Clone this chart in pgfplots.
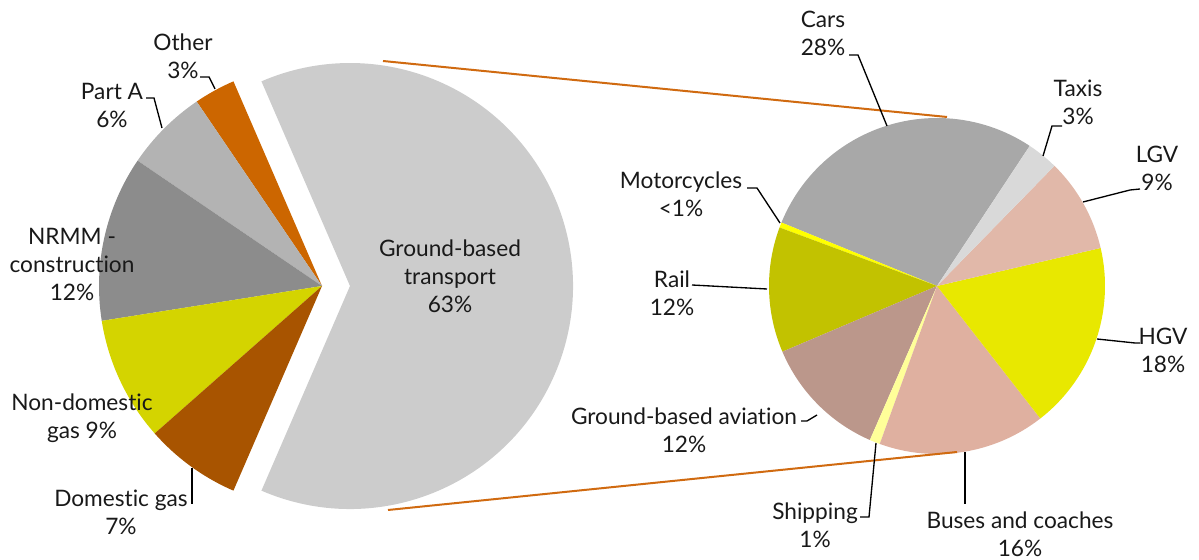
\documentclass[border=0pt]{standalone}
\usepackage{pgfplots}
\usepackage{pgfplotstable}
\pgfplotsset{compat=1.18}
\usepackage{fontspec}
\setmainfont{Lato}[Ligatures=NoCommon]

\definecolor{cGround}{HTML}{CCCCCC}
\definecolor{cOther}{HTML}{CC6600}
\definecolor{cPartA}{HTML}{B3B3B3}
\definecolor{cNRMM}{HTML}{8C8C8C}
\definecolor{cNonDom}{HTML}{D4D400}
\definecolor{cDom}{HTML}{A85400}
\definecolor{cCars}{HTML}{A8A8A8}
\definecolor{cMoto}{HTML}{FFFF00}
\definecolor{cRail}{HTML}{C2C200}
\definecolor{cAvi}{HTML}{BB978B}
\definecolor{cShip}{HTML}{FFFF99}
\definecolor{cBus}{HTML}{DFB0A0}
\definecolor{cHGV}{HTML}{E8E800}
\definecolor{cLGV}{HTML}{E1B8A9}
\definecolor{cTaxi}{HTML}{D9D9D9}
\definecolor{cConn}{HTML}{D06A10}

% left pie (counter-clockwise from start angle)
\pgfplotstableread{
name value color explode
Other 3 cOther 0
PartA 6 cPartA 0
NRMM 12 cNRMM 0
NonDom 9 cNonDom 0
Dom 7 cDom 0
Ground 63 cGround 28
}\leftpie

% right pie (counter-clockwise from start angle)
\pgfplotstableread{
name value color explode
Cars 28 cCars 0
Moto 0.5 cMoto 0
Rail 12 cRail 0
Aviation 12 cAvi 0
Shipping 1 cShip 0
Buses 16 cBus 0
HGV 18 cHGV 0
LGV 9 cLGV 0
Taxis 3 cTaxi 0
}\rightpie

\newcommand\drawpie[5]{%
 \pgfplotstablegetrowsof{#1}\pgfmathtruncatemacro\pieN{\pgfplotsretval-1}%
 \def\pieTot{0}%
 \pgfplotsforeachungrouped \i in {0,...,\pieN}{%
   \pgfplotstablegetelem{\i}{value}\of#1%
   \pgfmathsetmacro\pieTot{\pieTot+\pgfplotsretval}}%
 \def\pieCum{0}%
 \pgfplotsforeachungrouped \i in {0,...,\pieN}{%
   \pgfplotstablegetelem{\i}{value}\of#1\edef\pieV{\pgfplotsretval}%
   \pgfplotstablegetelem{\i}{color}\of#1\edef\pieC{\pgfplotsretval}%
   \pgfplotstablegetelem{\i}{explode}\of#1\edef\pieE{\pgfplotsretval}%
   \pgfmathsetmacro\pieA{#5+360*(\pieCum/\pieTot)}%
   \pgfmathsetmacro\pieB{#5+360*((\pieCum+\pieV)/\pieTot)}%
   \pgfmathsetmacro\pieM{(\pieA+\pieB)/2}%
   \pgfmathsetmacro\pieX{#2+\pieE*cos(\pieM)}%
   \pgfmathsetmacro\pieY{#3+\pieE*sin(\pieM)}%
   \pgfmathsetmacro\pieR{#4*0.75}%
   \edef\pieTmp{\noexpand\fill[\pieC] (axis cs:\pieX,\pieY) -- ++(\pieA:\pieR pt) arc[start angle=\pieA, end angle=\pieB, radius=\pieR pt] -- cycle;}%
   \pieTmp
   \pgfmathsetmacro\pieCum{\pieCum+\pieV}%
 }%
}

\begin{document}
\begin{tikzpicture}
\begin{axis}[x=0.75pt, y=0.75pt, xmin=0, xmax=1199, ymin=0, ymax=560,
  hide axis, clip=false, scale only axis]
\path (axis cs:0,0) rectangle (axis cs:1199,560);
\drawpie{\leftpie}{322}{274}{223}{113.4}
\drawpie{\rightpie}{937}{274}{168}{56.5}

% connector lines
\addplot[cConn, line width=1.5pt, no markers] coordinates {(383,499) (947,443)};
\addplot[cConn, line width=1.5pt, no markers] coordinates {(388,50) (957,108)};

% leader lines
\addplot[black, line width=1pt, no markers] coordinates {(200,483) (209,483) (215,471)};
\addplot[black, line width=1pt, no markers] coordinates {(146,462) (154,462) (162,432)};
\addplot[black, line width=1pt, no markers] coordinates {(192,92) (192,56)};
\addplot[black, line width=1pt, no markers] coordinates {(849,505) (858,505) (887,434)};
\addplot[black, line width=1pt, no markers] coordinates {(1062,434) (1052,434) (1043,404)};
\addplot[black, line width=1pt, no markers] coordinates {(1140,371) (1130,370) (1083,358)};
\addplot[black, line width=1pt, no markers] coordinates {(1097,221) (1135,217) (1140,217)};
\addplot[black, line width=1pt, no markers] coordinates {(965,108) (965,56)};
\addplot[black, line width=1pt, no markers] coordinates {(860,43) (869,43) (876,117)};
\addplot[black, line width=1pt, no markers] coordinates {(801,139) (807,139) (817,145)};
\addplot[black, line width=1pt, no markers] coordinates {(692,275) (767,271)};
\addplot[black, line width=1pt, no markers] coordinates {(747,372) (757,372) (780,337)};

\tikzset{lab/.style={align=center, inner sep=0pt, text=black!90, font=\fontsize{17}{21}\selectfont}}
\node[lab] at (axis cs:183,504) {Other\\3\%};
\node[lab] at (axis cs:112,455) {Part A\\6\%};
\node[lab] at (axis cs:72,296) {NRMM -\\construction\\12\%};
\node[lab] at (axis cs:82,142) {Non-domestic\\gas 9\%};
\node[lab] at (axis cs:121,48) {Domestic gas\\7\%};
\node[lab] at (axis cs:450,284) {Ground-based\\transport\\63\%};
\node[lab] at (axis cs:823,527) {Cars\\28\%};
\node[lab] at (axis cs:1078,458) {Taxis\\3\%};
\node[lab] at (axis cs:1157,392) {LGV\\9\%};
\node[lab] at (axis cs:1163,210) {HGV\\18\%};
\node[lab] at (axis cs:1020,26) {Buses and coaches\\16\%};
\node[lab] at (axis cs:815,35) {Shipping\\1\%};
\node[lab] at (axis cs:684,130) {Ground-based aviation\\12\%};
\node[lab] at (axis cs:672,267) {Rail\\12\%};
\node[lab] at (axis cs:681,366) {Motorcycles\\<1\%};
\end{axis}
\end{tikzpicture}
\end{document}
